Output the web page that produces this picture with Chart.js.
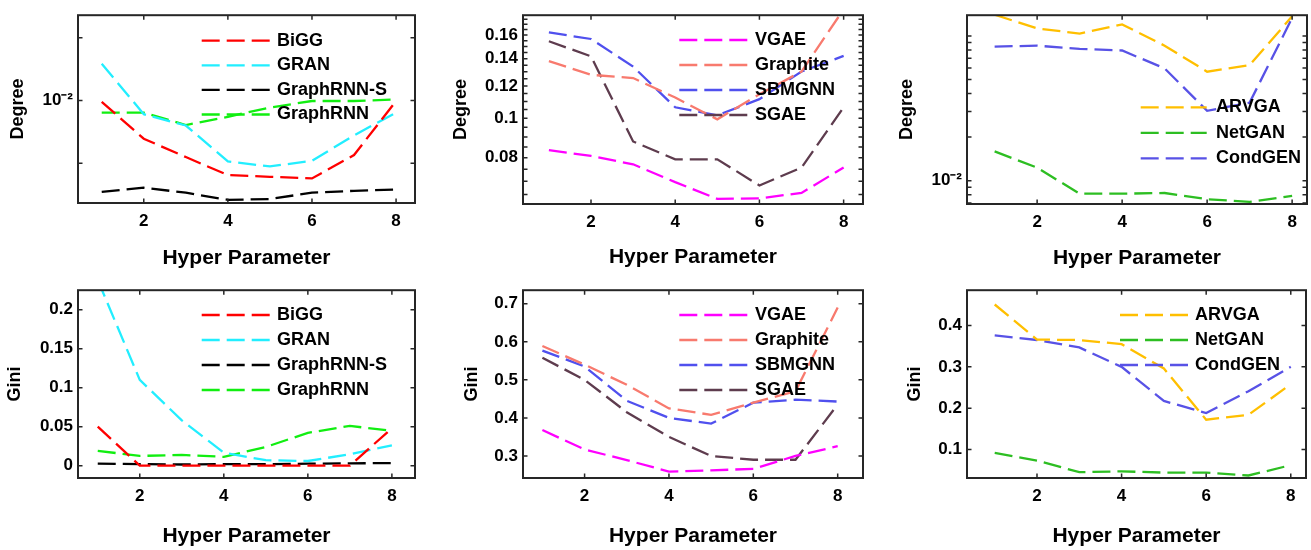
<!DOCTYPE html>
<html>
<head>
<meta charset="utf-8">
<script src="https://cdn.jsdelivr.net/npm/chart.js@4.4.1/dist/chart.umd.min.js"></script>
<style>
  html, body { margin: 0; padding: 0; background: #fff; }
  #wrap { position: relative; width: 1311px; height: 550px; overflow: hidden; }
  #wrap canvas { position: absolute; }
</style>
</head>
<body>
<div id="wrap"></div>
<script>
// x values shared by every panel
const hyper = [1, 2, 3, 4, 5, 6, 7, 8];
const xTicks = [2, 4, 6, 8];

// left column: autoregressive models
const namesA = ['BiGG', 'GRAN', 'GraphRNN-S', 'GraphRNN'];
const degBiGG = [0.0099, 0.00755, 0.0066, 0.00578, 0.00571, 0.00564, 0.0067, 0.00996];
const degGRAN = [0.0131, 0.00904, 0.00832, 0.00639, 0.00616, 0.00642, 0.00774, 0.00915];
const degGraphRNNS = [0.00511, 0.00527, 0.00508, 0.00482, 0.00485, 0.00508, 0.00515, 0.0052];
const degGraphRNN = [0.00915, 0.00915, 0.00835, 0.00887, 0.00949, 0.00996, 0.00996, 0.01007];
const giniBiGG = [0.05, 0.0, 0.0, 0.0, 0.0, 0.0, 0.0, 0.048];
const giniGRAN = [0.238, 0.11, 0.058, 0.0167, 0.007, 0.006, 0.0146, 0.026];
const giniGraphRNNS = [0.0025, 0.002, 0.0015, 0.002, 0.002, 0.0025, 0.003, 0.0033];
const giniGraphRNN = [0.019, 0.0125, 0.0138, 0.0113, 0.024, 0.042, 0.051, 0.0446];

// middle column: autoencoder models
const namesB = ['VGAE', 'Graphite', 'SBMGNN', 'SGAE'];
const degVGAE = [0.0835, 0.0808, 0.0771, 0.0697, 0.0634, 0.0636, 0.0656, 0.0757];
const degGraphite = [0.1381, 0.1278, 0.1255, 0.1124, 0.0994, 0.1145, 0.1302, 0.185];
const degSBMGNN = [0.1624, 0.1565, 0.1339, 0.1064, 0.1017, 0.1114, 0.1302, 0.1422];
const degSGAE = [0.1545, 0.1419, 0.0877, 0.0793, 0.0793, 0.0684, 0.0757, 0.1064];
const giniVGAE = [0.368, 0.317, 0.289, 0.259, 0.262, 0.266, 0.30, 0.3255];
const giniGraphite = [0.589, 0.54, 0.487, 0.425, 0.408, 0.44, 0.47, 0.69];
const giniSBMGNN = [0.577, 0.535, 0.445, 0.40, 0.385, 0.44, 0.448, 0.443];
const giniSGAE = [0.558, 0.50, 0.415, 0.35, 0.30, 0.29, 0.29, 0.435];

// right column: GAN models
const namesC = ['ARVGA', 'NetGAN', 'CondGEN'];
const degARVGA = [0.14, 0.1127, 0.1038, 0.12, 0.0856, 0.0566, 0.0628, 0.1365];
const degNetGAN = [0.01593, 0.0123, 0.00813, 0.00813, 0.00822, 0.00745, 0.00714, 0.00784];
const degCondGEN = [0.0844, 0.0856, 0.0813, 0.0793, 0.0596, 0.0304, 0.0346, 0.133];
const giniARVGA = [0.451, 0.366, 0.365, 0.355, 0.296, 0.172, 0.184, 0.258];
const giniNetGAN = [0.092, 0.073, 0.045, 0.047, 0.044, 0.044, 0.037, 0.062];
const giniCondGEN = [0.376, 0.365, 0.347, 0.30, 0.2175, 0.188, 0.241, 0.30];

// y tick positions and the labelled ones
const degTicksA = [0.0063096, 0.01, 0.0158489];
const degMajorA = [0.01];
const degTextA = ['10\u207B\u00B2'];
const degTicksB = [0.065, 0.07, 0.075, 0.08, 0.085, 0.09, 0.095, 0.1, 0.105, 0.11, 0.115, 0.12,
  0.125, 0.13, 0.135, 0.14, 0.145, 0.15, 0.155, 0.16, 0.165, 0.17, 0.175];
const degMajorB = [0.08, 0.1, 0.12, 0.14, 0.16];
const degTextB = ['0.08', '0.1', '0.12', '0.14', '0.16'];
const degTicksC = [0.007, 0.008, 0.009, 0.01, 0.02, 0.03, 0.04, 0.05, 0.06, 0.07, 0.08, 0.09, 0.1];
const degMajorC = [0.01];
const degTextC = ['10\u207B\u00B2'];
const giniTicksA = [0, 0.05, 0.1, 0.15, 0.2];
const giniTextA = ['0', '0.05', '0.1', '0.15', '0.2'];
const giniTicksB = [0.3, 0.4, 0.5, 0.6, 0.7];
const giniTextB = ['0.3', '0.4', '0.5', '0.6', '0.7'];
const giniTicksC = [0.1, 0.2, 0.3, 0.4];
const giniTextC = ['0.1', '0.2', '0.3', '0.4'];

const colorsA = ['#FF0000', '#22EEFF', '#000000', '#11EE11'];
const colorsB = ['#FF00FF', '#F87A6E', '#5050EE', '#5E3C4E'];
const colorsC = ['#FFBF00', '#2DBE22', '#5852E6'];

const FONT = '"Liberation Sans", Arial, Helvetica, sans-serif';

const panels = [
  { names: namesA, series: [degBiGG, degGRAN, degGraphRNNS, degGraphRNN], colors: colorsA,
    yTitle: 'Degree', yType: 'logarithmic', yMin: 0.00471, yMax: 0.0187,
    ticks: degTicksA, major: degMajorA, text: degTextA, xMin: 0.436, xMax: 8.45,
    canvas: [0, 0, 440, 275], box: [78, 11, 415, 203], yTitleX: 18.3, xTitleY: 258.3,
    legend: { x1: 201.7, x2: 270, tx: 277, y: 40.7, dy: 24.6 } },
  { names: namesB, series: [degVGAE, degGraphite, degSBMGNN, degSGAE], colors: colorsB,
    yTitle: 'Degree', yType: 'logarithmic', yMin: 0.0616, yMax: 0.179,
    ticks: degTicksB, major: degMajorB, text: degTextB, xMin: 0.385, xMax: 8.46,
    canvas: [440, 0, 440, 275], box: [523, 11, 863, 204], yTitleX: 460.7, xTitleY: 257.5,
    legend: { x1: 679.3, x2: 748.3, tx: 755, y: 40, dy: 25 } },
  { names: namesC, series: [degARVGA, degNetGAN, degCondGEN], colors: colorsC,
    yTitle: 'Degree', yType: 'logarithmic', yMin: 0.0069, yMax: 0.139,
    ticks: degTicksC, major: degMajorC, text: degTextC, xMin: 0.35, xMax: 8.35,
    canvas: [880, 0, 431, 275], box: [967, 11, 1307, 204], yTitleX: 907.3, xTitleY: 258.3,
    legend: { x1: 1140.7, x2: 1206.7, tx: 1216, y: 107.3, dy: 25.5 } },
  { names: namesA, series: [giniBiGG, giniGRAN, giniGraphRNNS, giniGraphRNN], colors: colorsA,
    yTitle: 'Gini', yType: 'linear', yMin: -0.0158, yMax: 0.2249,
    ticks: giniTicksA, major: giniTicksA, text: giniTextA, xMin: 0.53, xMax: 8.55,
    canvas: [0, 275, 440, 275], box: [78, 284, 415, 478], yTitleX: 15, xTitleY: 536.7,
    legend: { x1: 201.7, x2: 270, tx: 277, y: 315, dy: 25 } },
  { names: namesB, series: [giniVGAE, giniGraphite, giniSBMGNN, giniSGAE], colors: colorsB,
    yTitle: 'Gini', yType: 'linear', yMin: 0.242, yMax: 0.7357,
    ticks: giniTicksB, major: giniTicksB, text: giniTextB, xMin: 0.54, xMax: 8.6,
    canvas: [440, 275, 440, 275], box: [523, 284, 863, 478], yTitleX: 471.7, xTitleY: 536.7,
    legend: { x1: 679.3, x2: 748.3, tx: 755, y: 315, dy: 25 } },
  { names: namesC, series: [giniARVGA, giniNetGAN, giniCondGEN], colors: colorsC,
    yTitle: 'Gini', yType: 'linear', yMin: 0.0309, yMax: 0.4856,
    ticks: giniTicksC, major: giniTicksC, text: giniTextC, xMin: 0.345, xMax: 8.36,
    canvas: [880, 275, 431, 275], box: [967, 284, 1306, 478], yTitleX: 915, xTitleY: 536.7,
    legend: { x1: 1120, x2: 1188.3, tx: 1195, y: 315, dy: 25 } }
];

// box, inward tick marks and the boxless legend, MATLAB style
const framePlugin = {
  id: 'frame',
  afterDatasetsDraw(chart, args, o) {
    const { ctx, chartArea: a } = chart;
    const x = chart.scales.x, y = chart.scales.y;
    ctx.save();
    ctx.strokeStyle = '#262626';
    ctx.lineWidth = 1.5;
    ctx.setLineDash([]);
    ctx.beginPath();
    x.ticks.forEach(t => {
      const px = x.getPixelForValue(t.value);
      ctx.moveTo(px, a.bottom); ctx.lineTo(px, a.bottom - 4.5);
      ctx.moveTo(px, a.top); ctx.lineTo(px, a.top + 4.5);
    });
    y.ticks.forEach(t => {
      const py = y.getPixelForValue(t.value);
      ctx.moveTo(a.left, py); ctx.lineTo(a.left + 4.5, py);
      ctx.moveTo(a.right, py); ctx.lineTo(a.right - 4.5, py);
    });
    ctx.stroke();
    ctx.lineWidth = 2;
    ctx.strokeRect(a.left, a.top, a.right - a.left, a.bottom - a.top);

    const lg = o.pos;
    chart.data.datasets.forEach((d, i) => {
      const yy = lg.y + i * lg.dy;
      ctx.strokeStyle = d.borderColor;
      ctx.lineWidth = d.borderWidth;
      ctx.setLineDash(d.borderDash);
      ctx.beginPath();
      ctx.moveTo(lg.x1, yy);
      ctx.lineTo(lg.x2, yy);
      ctx.stroke();
      ctx.setLineDash([]);
      ctx.fillStyle = '#000';
      ctx.font = 'bold 18px ' + FONT;
      ctx.textBaseline = 'middle';
      ctx.textAlign = 'left';
      ctx.fillText(d.label, lg.tx, yy);
    });
    ctx.restore();
  }
};

const wrap = document.getElementById('wrap');

panels.forEach(p => {
  const [cx, cy, cw, ch] = p.canvas;
  const [L, T, R, B] = p.box;
  const cv = document.createElement('canvas');
  cv.width = cw; cv.height = ch;
  cv.style.left = cx + 'px'; cv.style.top = cy + 'px';
  cv.style.width = cw + 'px'; cv.style.height = ch + 'px';
  wrap.appendChild(cv);

  const datasets = p.series.map((vals, i) => ({
    label: p.names[i],
    data: hyper.map((h, j) => ({ x: h, y: vals[j] })),
    borderColor: p.colors[i],
    backgroundColor: p.colors[i],
    borderWidth: 2.3,
    borderDash: [18, 7],
    pointRadius: 0,
    tension: 0,
    fill: false
  }));

  const tickFont = { family: FONT, size: 17, weight: 'bold' };

  new Chart(cv.getContext('2d'), {
    type: 'line',
    data: { datasets },
    plugins: [framePlugin],
    options: {
      responsive: false,
      animation: false,
      devicePixelRatio: 1,
      layout: { padding: { left: 0, top: T - cy, right: cx + cw - R, bottom: 0 } },
      plugins: {
        legend: { display: false },
        tooltip: { enabled: false },
        frame: { pos: {
          x1: p.legend.x1 - cx, x2: p.legend.x2 - cx, tx: p.legend.tx - cx,
          y: p.legend.y - cy, dy: p.legend.dy } }
      },
      scales: {
        x: {
          type: 'linear',
          min: p.xMin, max: p.xMax,
          grid: { display: false, drawTicks: false },
          border: { display: false },
          afterBuildTicks: s => { s.ticks = xTicks.map(v => ({ value: v })); },
          afterFit: s => { s.height = cy + ch - B; },
          ticks: { font: tickFont, color: '#000', padding: 8.5, autoSkip: false, maxRotation: 0,
            callback: v => String(v) },
          title: { display: true, text: 'Hyper Parameter', color: '#000',
            font: { family: FONT, size: 21, weight: 'bold' },
            padding: { top: 0, bottom: ch - 12.6 - (p.xTitleY - cy) } }
        },
        y: {
          type: p.yType,
          min: p.yMin, max: p.yMax,
          grid: { display: false, drawTicks: false },
          border: { display: false },
          afterBuildTicks: s => { s.ticks = p.ticks.map(v => ({ value: v })); },
          afterFit: s => { s.width = L - cx; },
          ticks: { font: tickFont, color: '#000', padding: 5, autoSkip: false,
            callback: (v, i, ts) => {
              const val = ts[i].value;
              const k = p.major.findIndex(m => Math.abs(m - val) < 1e-9);
              return k >= 0 ? p.text[k] : '';
            } },
          title: { display: true, text: p.yTitle, color: '#000',
            font: { family: FONT, size: 18, weight: 'bold' },
            padding: { top: p.yTitleX - cx - 10.8, bottom: 0 } }
        }
      }
    }
  });
});
</script>
</body>
</html>
